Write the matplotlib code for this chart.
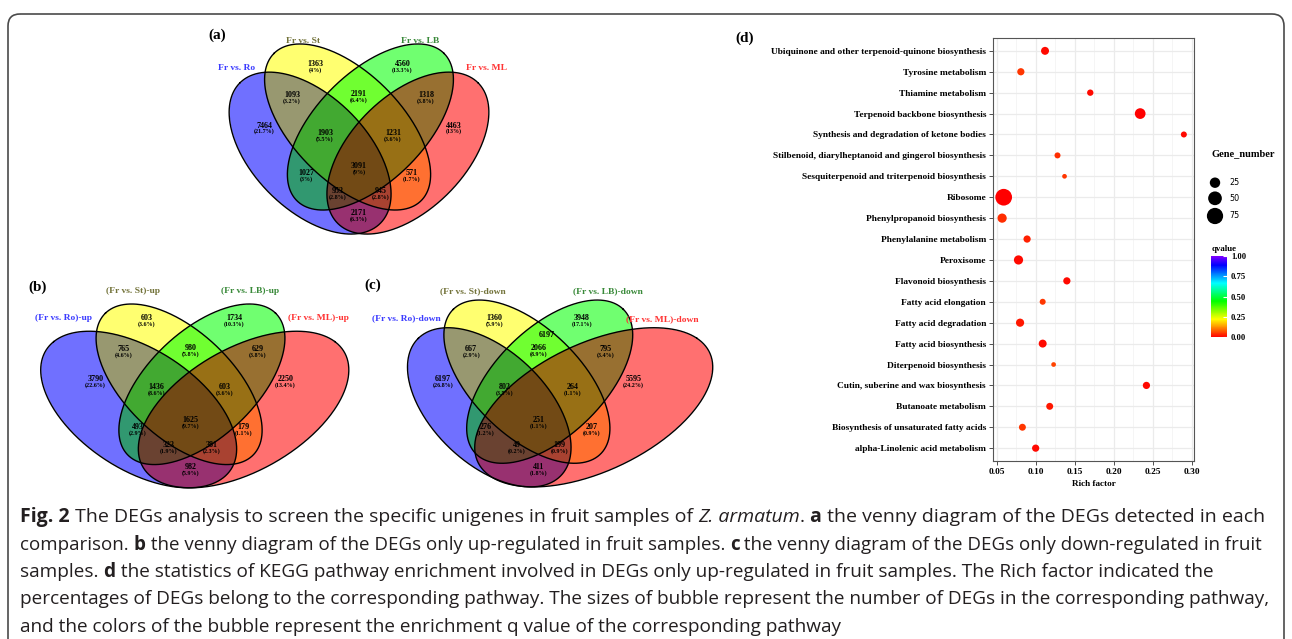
import numpy as np
import matplotlib
matplotlib.use('Agg')
import matplotlib.pyplot as plt
from matplotlib import font_manager
from matplotlib.patches import FancyBboxPatch
from matplotlib.colors import ListedColormap, hsv_to_rgb, Normalize
from matplotlib.cm import ScalarMappable

W, H = 1292, 639

# ---- data: venn panels (a), (b), (c) ----
# region order: St, LB, Ro, ML, Ro&St, St&LB, LB&ML, Ro&St&LB, St&LB&ML,
#               all, Ro&LB, St&ML, Ro&LB&ML, Ro&St&ML, Ro&ML
names_a = ['Fr vs. Ro', 'Fr vs. St', 'Fr vs. LB', 'Fr vs. ML']
counts_a = [1363, 4560, 7464, 4463, 1093, 2191, 1318, 1903, 1231, 3091, 1027, 571, 953, 945, 2171]
names_b = ['(Fr vs. Ro)-up', '(Fr vs. St)-up', '(Fr vs. LB)-up', '(Fr vs. ML)-up']
counts_b = [603, 1734, 3790, 2250, 765, 980, 629, 1436, 603, 1625, 493, 179, 323, 381, 982]
names_c = ['(Fr vs. Ro)-down', '(Fr vs. St)-down', '(Fr vs. LB)-down', '(Fr vs. ML)-down']
counts_c = [1360, 3948, 6197, 5595, 667, 2066, 795, 802, 264, 251, 276, 207, 49, 199, 411]
stray_c = '6197'

# ---- data: KEGG bubble panel (d), top to bottom ----
pathways = ['Ubiquinone and other terpenoid-quinone biosynthesis', 'Tyrosine metabolism',
            'Thiamine metabolism', 'Terpenoid backbone biosynthesis',
            'Synthesis and degradation of ketone bodies',
            'Stilbenoid, diarylheptanoid and gingerol biosynthesis',
            'Sesquiterpenoid and triterpenoid biosynthesis', 'Ribosome',
            'Phenylpropanoid biosynthesis', 'Phenylalanine metabolism', 'Peroxisome',
            'Flavonoid biosynthesis', 'Fatty acid elongation', 'Fatty acid degradation',
            'Fatty acid biosynthesis', 'Diterpenoid biosynthesis',
            'Cutin, suberine and wax biosynthesis', 'Butanoate metabolism',
            'Biosynthesis of unsaturated fatty acids', 'alpha-Linolenic acid metabolism']
rich = [0.112, 0.081, 0.170, 0.234, 0.290, 0.128, 0.137, 0.059, 0.057, 0.089,
        0.078, 0.140, 0.109, 0.080, 0.109, 0.123, 0.242, 0.118, 0.083, 0.100]
genes = [12, 9, 6, 27, 5, 5, 2, 80, 18, 9, 18, 9, 5, 13, 12, 2, 9, 8, 8, 9]
qvals = [0.01, 0.05, 0.01, 0.0, 0.01, 0.04, 0.05, 0.0, 0.04, 0.03,
         0.01, 0.01, 0.05, 0.02, 0.01, 0.06, 0.01, 0.02, 0.05, 0.01]
legend_sizes = [25, 50, 75]
q_ticks = [0.0, 0.25, 0.5, 0.75, 1.0]

caption = [
    [('Fig. 2', 'bold'), (' The DEGs analysis to screen the specific unigenes in fruit samples of ', 'normal'),
     ('Z. armatum', 'italic'), ('. ', 'normal'), ('a', 'bold'),
     (' the venny diagram of the DEGs detected in each', 'normal')],
    [('comparison. ', 'normal'), ('b', 'bold'),
     (' the venny diagram of the DEGs only up-regulated in fruit samples. ', 'normal'), ('c', 'bold'),
     (' the venny diagram of the DEGs only down-regulated in fruit', 'normal')],
    [('samples. ', 'normal'), ('d', 'bold'),
     (' the statistics of KEGG pathway enrichment involved in DEGs only up-regulated in fruit samples. The Rich factor indicated the', 'normal')],
    [('percentages of DEGs belong to the corresponding pathway. The sizes of bubble represent the number of DEGs in the corresponding pathway,', 'normal')],
    [('and the colors of the bubble represent the enrichment q value of the corresponding pathway', 'normal')],
]
caption_ends = [1255, 1263, 1212, 1266]


def has_font(name, weight='normal'):
    try:
        path = font_manager.findfont(font_manager.FontProperties(family=name, weight=weight),
                                     fallback_to_default=False)
    except ValueError:
        return False
    return weight == 'normal' or 'bold' in path.lower()


SERIF = next((f for f in ['Liberation Serif', 'DejaVu Serif'] if has_font(f, 'bold')), 'DejaVu Serif')
SANS = next((f for f in ['Open Sans', 'Noto Sans', 'Lato', 'Liberation Sans', 'DejaVu Sans']
             if has_font(f, 'bold')), 'DejaVu Sans')

# venn ellipses in unit coords (x, y, semi-major, semi-minor, angle): Ro, St, LB, ML
# one unit is 300 px in panel (a); the centre label sits at (0.5, 0.415)
ELLIPSES = [(0.337, 0.458, 0.331, 0.190, 135), (0.462, 0.545, 0.347, 0.181, 135),
            (0.538, 0.545, 0.347, 0.181, 45), (0.663, 0.458, 0.331, 0.190, 45)]
# outer ellipses may be widened sideways about their inner edge (px from the centre)
PIVOTS = [-35, 0, 0, 35]
FILLS = [(0, 0, 1), (1, 1, 0), (0, 1, 0), (1, 0, 0)]
NAME_COLORS = ['#3c3cff', '#73733a', '#3a8a3a', '#ff3535']
ALPHA = 0.56
UNIT = 300.0
# label offsets in px from the centre label, same order as the counts
REGION_OFFS = [(-43.5, -102), (43.5, -102), (-95, -40.5), (95, -40.5), (-67, -71), (0, -71.5),
               (67, -71), (-34, -33.2), (34, -33.2), (0, 0), (-53, 6.7), (53, 6.7),
               (-21.5, 25), (21.5, 25), (0, 47)]

fig = plt.figure(figsize=(W / 100, H / 100), dpi=100)
cv = fig.add_axes([0, 0, 1, 1])
cv.set_xlim(0, W)
cv.set_ylim(H, 0)
cv.axis('off')


def venn(rect, anchor, kx, ky, shy, counts, names, name_offs, extra=None):
    # axes data = pixel offsets from the centre label, y upwards
    L, T, Wd, Ht = rect
    cx, cy = anchor
    ax = fig.add_axes([L / W, 1 - (T + Ht) / H, Wd / W, Ht / H])
    x0, x1 = L - cx, L + Wd - cx
    y0, y1 = cy - (T + Ht), cy - T
    ax.set_xlim(x0, x1)
    ax.set_ylim(y0, y1)
    ax.axis('off')

    X, Y = np.meshgrid(np.linspace(x0, x1, Wd * 2), np.linspace(y0, y1, Ht * 2))
    over = np.ones(X.shape + (3,))
    mult = np.ones(X.shape + (3,))
    inside = np.zeros(X.shape, bool)
    tt = np.linspace(0, 2 * np.pi, 400)
    for (xc, yc, a, b, ang), col, k, p in zip(ELLIPSES, FILLS, kx, PIVOTS):
        t = np.deg2rad(ang)
        U = 0.5 + (p + (X - p) / k) / UNIT - xc
        V = 0.415 + (Y - shy) / (UNIT * ky) - yc
        m = ((U * np.cos(t) + V * np.sin(t)) / a) ** 2 + ((-U * np.sin(t) + V * np.cos(t)) / b) ** 2 <= 1
        col = np.array(col, float)
        over[m] = ALPHA * col + (1 - ALPHA) * over[m]
        mult[m] = mult[m] * (ALPHA * col + 1 - ALPHA)
        inside |= m
        pu = xc + a * np.cos(tt) * np.cos(t) - b * np.sin(tt) * np.sin(t)
        pv = yc + a * np.cos(tt) * np.sin(t) + b * np.sin(tt) * np.cos(t)
        ax.plot(p + k * ((pu - 0.5) * UNIT - p), (pv - 0.415) * UNIT * ky + shy,
                color='black', lw=1.0, zorder=2)
    rgba = np.dstack([0.5 * over + 0.5 * mult, inside.astype(float)])
    ax.imshow(rgba, extent=(x0, x1, y0, y1), origin='lower', aspect='auto',
              interpolation='bilinear', zorder=1)

    def put(txt, dx, dy, **kw):
        ax.text(dx, -dy, txt, ha='center', va='center', family=SERIF, fontweight='bold',
                zorder=3, clip_on=False, **kw)

    total = sum(counts)
    for v, (dx, dy) in zip(counts, REGION_OFFS):
        put(str(v), dx, dy, fontsize=5.8)
        put('({:g}%)'.format(round(100 * v / total, 1)), dx, dy + 6, fontsize=4.3)
    for name, (dx, dy), col in zip(names, name_offs, NAME_COLORS):
        put(name, dx, dy, fontsize=6.8, color=col)
    if extra:
        put(extra[0], extra[1][0], extra[1][1], fontsize=5.8)
    return ax


venn((200, 25, 330, 250), (359, 166), (1, 1, 1, 1), 1.0, 0, counts_a, names_a,
     [(-122.3, -98.3), (-56.3, -125.3), (61, -125.3), (127, -98.3)])
venn((25, 280, 345, 215), (190.5, 420), (1.21, 1.0, 1.0, 1.30), 0.967, -2, counts_b, names_b,
     [(-127.2, -101.7), (-57.2, -129.3), (59.5, -129.3), (127.8, -101.7)])
venn((370, 280, 360, 215), (538.3, 420), (1.01, 1.0, 1.0, 1.47), 0.983, 0, counts_c, names_c,
     [(-131.6, -101.7), (-65, -129.3), (70, -129.3), (123.7, -101)],
     extra=(stray_c, (8.4, -85)))

for lab, (x, y) in zip(['(a)', '(b)', '(c)', '(d)'], [(217, 35), (38, 287), (373, 285), (745, 38)]):
    cv.text(x, y, lab, ha='center', va='center', fontsize=11, fontweight='bold', family=SERIF)

# ---- (d) KEGG bubbles ----
ax = fig.add_axes([993 / W, 1 - 460.7 / H, (1194 - 993) / W, (460.7 - 38.3) / H])
n = len(pathways)
ypos = np.arange(n)[::-1]

cmap = ListedColormap(hsv_to_rgb(np.column_stack([np.linspace(0, 0.75, 256),
                                                  np.ones(256), np.ones(256)])))
norm = Normalize(0, 1)
gmin, gmax = np.sqrt(min(genes)), np.sqrt(max(genes))


def bubble_area(g):
    d_px = 4.7 + 12.0 * (np.sqrt(g) - gmin) / (gmax - gmin)
    return (d_px * 0.72) ** 2


ax.scatter(rich, ypos, s=bubble_area(np.array(genes)), c=qvals, cmap=cmap, norm=norm,
           edgecolors='none', zorder=3)
ax.set_xlim(0.0453, 0.303)
ax.set_ylim(-0.6, n - 0.4)
ax.set_yticks(ypos)
ax.set_yticklabels(pathways)
ax.set_xticks([0.05, 0.10, 0.15, 0.20, 0.25, 0.30])
ax.set_xticklabels(['0.05', '0.10', '0.15', '0.20', '0.25', '0.30'])
ax.set_xticks([0.075, 0.125, 0.175, 0.225, 0.275], minor=True)
ax.grid(which='major', color='#ebebeb', lw=0.9)
ax.grid(which='minor', axis='x', color='#f2f2f2', lw=0.5)
ax.set_axisbelow(True)
ax.tick_params(which='major', length=3, width=0.6, color='#333333', pad=2)
ax.tick_params(which='minor', length=0)
for lbl in ax.get_xticklabels() + ax.get_yticklabels():
    lbl.set_family(SERIF)
    lbl.set_fontweight('bold')
    lbl.set_fontsize(6.75)
for sp in ax.spines.values():
    sp.set_color('#555555')
    sp.set_linewidth(0.8)
ax.set_xlabel('Rich factor', fontsize=6.6, fontweight='bold', family=SERIF, labelpad=3)

# size legend
cv.text(1211.7, 153.3, 'Gene_number', ha='left', va='center', fontsize=7.5, fontweight='bold', family=SERIF)
for g, y in zip(legend_sizes, [182.7, 198.3, 216]):
    cv.scatter([1215], [y], s=bubble_area(g), color='black', edgecolors='none')
    cv.text(1229, y, str(g), ha='left', va='center', fontsize=5.8, family='DejaVu Sans')
cv.text(1211.7, 249, 'qvalue', ha='left', va='center', fontsize=6.4, fontweight='bold', family=SERIF)
cax = fig.add_axes([1210.7 / W, 1 - 337.3 / H, 16 / W, 81.3 / H])
cb = fig.colorbar(ScalarMappable(norm=norm, cmap=cmap), cax=cax, ticks=q_ticks)
cb.outline.set_visible(False)
cb.ax.set_yticklabels(['{:.2f}'.format(t) for t in q_ticks])
cb.ax.tick_params(length=3, color='white', width=0.8, direction='in', pad=3)
for lbl in cb.ax.get_yticklabels():
    lbl.set_family(SERIF)
    lbl.set_fontweight('bold')
    lbl.set_fontsize(6.2)

# frame
cv.add_patch(FancyBboxPatch((8, 14), 1276, 700, boxstyle='round,pad=0,rounding_size=12',
                            fc='none', ec='#4a4a4a', lw=1.2))

# caption: the full lines are sized to end where the original ones do
r = fig.canvas.get_renderer()


def write_line(segs, y, size):
    x = 20
    arts = []
    for txt, style in segs:
        kw = dict(fontsize=size, family=SANS, va='center', ha='left', color='#231f20')
        if style == 'bold':
            kw['fontweight'] = 'bold'
        elif style == 'italic':
            kw['fontstyle'] = 'italic'
        t = cv.text(x, y, txt, **kw)
        x += t.get_window_extent(r).width
        arts.append(t)
    return arts, x


sizes = []
for segs, xend in zip(caption, caption_ends):
    tmp, xe = write_line(segs, 517, 12)
    for t in tmp:
        t.remove()
    sizes.append(12 * (xend - 20) / (xe - 20))
sizes.append(float(np.median(sizes)))
for i, (segs, size) in enumerate(zip(caption, sizes)):
    write_line(segs, 517 + 27.5 * i, size)

fig.savefig('out.png', dpi=100)
